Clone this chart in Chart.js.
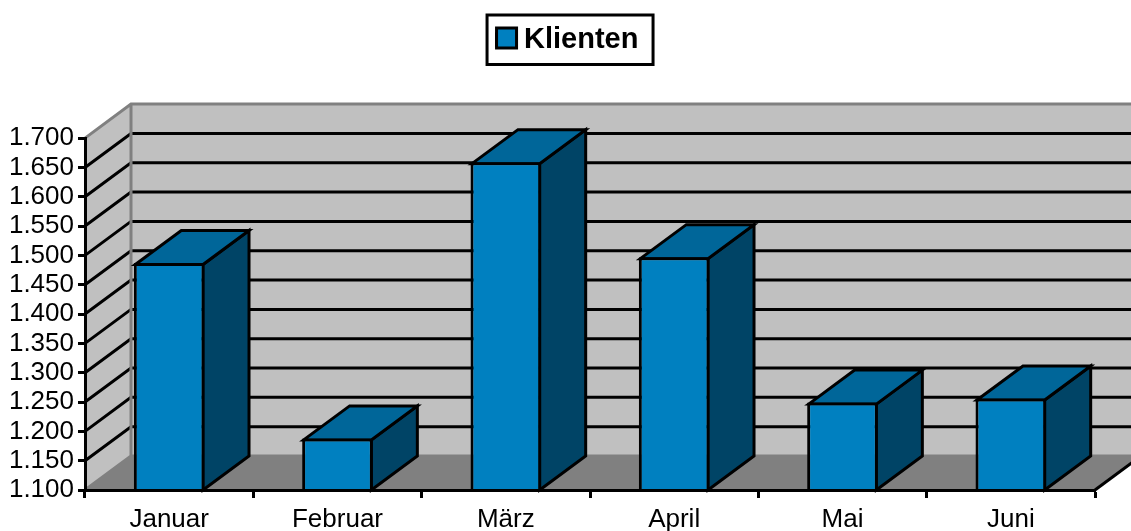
<!DOCTYPE html>
<html>
<head>
<meta charset="utf-8">
<title>Klienten</title>
<script src="https://cdn.jsdelivr.net/npm/chart.js@4"></script>
<style>
  html, body { margin: 0; padding: 0; background: #fff; overflow: hidden; }
  canvas { display: block; }
</style>
</head>
<body>
<canvas id="chart" width="1131" height="531"></canvas>
<script>
const categories = ["Januar", "Februar", "März", "April", "Mai", "Juni"];
const klienten = [1487, 1188, 1659, 1497, 1249, 1256];
const seriesName = "Klienten";

const fontFamily = "'Liberation Sans', Arial, sans-serif";
const depthX = 46; // fake 3D offset
const depthY = -34;
const lineW = 3;

function poly(ctx, pts, fill, stroke, width) {
  ctx.beginPath();
  pts.forEach((p, i) => (i ? ctx.lineTo(p[0], p[1]) : ctx.moveTo(p[0], p[1])));
  ctx.closePath();
  ctx.fillStyle = fill;
  ctx.fill();
  if (stroke) {
    ctx.strokeStyle = stroke;
    ctx.lineWidth = width;
    ctx.stroke();
  }
}

// walls, floor and the side/top faces of the bars
const box3d = {
  id: "box3d",
  afterLayout(chart) {
    // legend sits higher and a bit more right than the layout puts it
    chart.legend.left += 20;
    chart.legend.right += 20;
    chart.legend.top -= 73.6;
    chart.legend.bottom -= 73.6;
  },
  beforeDatasetsDraw(chart) {
    const { ctx, chartArea: a, scales: { y } } = chart;
    ctx.save();

    const bx = a.left + depthX, rx = a.right + depthX;
    poly(ctx, [[bx, a.top + depthY], [rx, a.top + depthY], [rx, a.bottom + depthY], [bx, a.bottom + depthY]], "#C0C0C0");
    poly(ctx, [[a.left, a.top], [bx, a.top + depthY], [bx, a.bottom + depthY], [a.left, a.bottom]], "#C0C0C0");
    poly(ctx, [[a.left, a.bottom], [bx, a.bottom + depthY], [rx, a.bottom + depthY], [a.right, a.bottom]], "#808080");

    // grid lines run along the side wall then the back wall
    ctx.strokeStyle = "#000";
    ctx.lineWidth = lineW;
    y.ticks.forEach((t) => {
      if (t.value === y.min || t.value === y.max) return;
      const py = y.getPixelForValue(t.value);
      ctx.beginPath();
      ctx.moveTo(a.left, py);
      ctx.lineTo(bx, py + depthY);
      ctx.lineTo(rx, py + depthY);
      ctx.stroke();
    });

    // wall edges
    ctx.strokeStyle = "#808080";
    ctx.beginPath();
    ctx.moveTo(a.left, a.top);
    ctx.lineTo(bx, a.top + depthY);
    ctx.lineTo(rx, a.top + depthY);
    ctx.moveTo(bx, a.top + depthY);
    ctx.lineTo(bx, a.bottom + depthY);
    ctx.lineTo(rx, a.bottom + depthY);
    ctx.moveTo(bx, a.bottom + depthY);
    ctx.lineTo(a.left, a.bottom);
    ctx.stroke();

    // right edge of the floor
    ctx.strokeStyle = "#000";
    ctx.beginPath();
    ctx.moveTo(a.right, a.bottom);
    ctx.lineTo(rx, a.bottom + depthY);
    ctx.stroke();

    chart.getDatasetMeta(0).data.forEach((bar) => {
      const l = bar.x - bar.width / 2 + lineW / 2;
      const r = bar.x + bar.width / 2 - lineW / 2;
      const t = bar.y + lineW / 2;
      const b = a.bottom;
      poly(ctx, [[r, t], [r + depthX, t + depthY], [r + depthX, b + depthY], [r, b]], "#004466", "#000", lineW);
      poly(ctx, [[l, t], [l + depthX, t + depthY], [r + depthX, t + depthY], [r, t]], "#006699", "#000", lineW);
    });
    ctx.restore();
  },
  afterDraw(chart) {
    // frame and wider swatch for the legend
    const { ctx } = chart;
    const hit = chart.legend.legendHitBoxes[0];
    ctx.save();
    ctx.strokeStyle = "#000";
    ctx.lineWidth = lineW;
    ctx.strokeRect(hit.left - 9.5, 15, 166, 49.5);
    const sy = 28;
    ctx.fillStyle = "#0080C0";
    ctx.fillRect(hit.left, sy, 20, 20);
    ctx.strokeRect(hit.left, sy, 20, 20);
    ctx.restore();
  },
};

new Chart(document.getElementById("chart"), {
  type: "bar",
  plugins: [box3d],
  data: {
    labels: categories,
    datasets: [{
      label: seriesName,
      data: klienten,
      backgroundColor: "#0080C0",
      borderColor: "#000",
      borderWidth: lineW,
      borderSkipped: false,
      categoryPercentage: 1,
      barPercentage: 0.42,
    }],
  },
  options: {
    responsive: false,
    animation: false,
    layout: { padding: { top: 0, left: 0, right: 36, bottom: 0 } },
    plugins: {
      tooltip: { enabled: false },
      legend: {
        position: "top",
        labels: {
          color: "#000",
          font: { family: fontFamily, size: 29, weight: "bold" },
          boxWidth: 13,
          boxHeight: 12,
          padding: 99.1,
        },
      },
    },
    scales: {
      x: {
        afterFit: (s) => { s.height = 41; },
        grid: { drawOnChartArea: false, tickLength: 8, tickColor: "#000", tickWidth: lineW },
        border: { color: "#000", width: lineW, z: 1 },
        ticks: {
          color: "#000",
          font: { family: fontFamily, size: 26 },
          padding: 6,
          maxRotation: 0,
          autoSkip: false,
        },
      },
      y: {
        min: 1100,
        max: 1700,
        afterFit: (s) => { s.width = 85; },
        grid: { drawOnChartArea: false, tickLength: 7, tickColor: "#000", tickWidth: lineW },
        border: { color: "#000", width: lineW, z: 1 },
        ticks: {
          stepSize: 50,
          color: "#000",
          font: { family: fontFamily, size: 26 },
          padding: 4,
          autoSkip: false,
          callback: (v) => v.toLocaleString("de-DE", { minimumFractionDigits: 0 }),
        },
      },
    },
  },
});
</script>
</body>
</html>
